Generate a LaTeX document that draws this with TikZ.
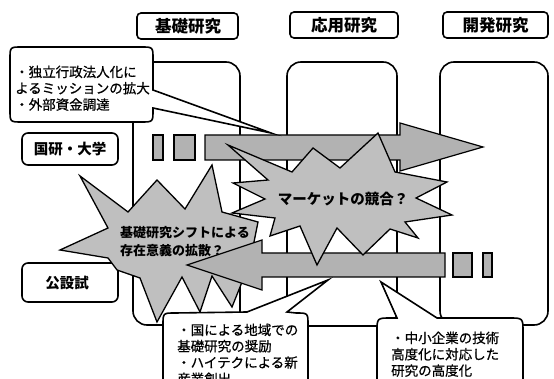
\documentclass[tikz,border=0pt]{standalone}
\usepackage{fontspec}
\newfontfamily\jp{Noto Sans CJK JP}
\newfontfamily\jpm[FakeBold=0.7]{Noto Sans CJK JP}
\begin{document}
\begin{tikzpicture}[x=1pt,y=-1pt,
  colbox/.style={draw=black,line width=1.6pt,fill=white,rounded corners=14pt},
  headbox/.style={draw=black,line width=1.6pt,fill=white,rounded corners=4pt},
  sidebox/.style={draw=black,line width=1.6pt,fill=white,rounded corners=6pt},
  graybar/.style={draw=black,line width=1.2pt,fill=black!30},
  burst/.style={draw=black,line width=1.3pt,fill=black!25,line join=miter,miter limit=20},
  callout/.style={draw=black,line width=1.6pt,fill=white,line join=miter,miter limit=20},
  headtxt/.style={font=\jp\bfseries\fontsize{16.5}{18}\selectfont,inner sep=0pt},
  sidetxt/.style={font=\jp\bfseries\fontsize{14.5}{16}\selectfont,inner sep=0pt},
  bursttxt/.style={font=\jp\bfseries\fontsize{13}{18.5}\selectfont,inner sep=0pt,align=left},
  calltxt/.style={font=\jpm\fontsize{13.5}{16.3}\selectfont,inner sep=0pt,align=left,anchor=north west}]
\clip (0,0) rectangle (554,379);
\fill[white] (0,0) rectangle (554,379);

% columns
\draw[colbox] (133,62) rectangle (240,325);
\draw[colbox] (287,62) rectangle (397,326);
\draw[colbox] (440,62) rectangle (548,325);

% header boxes
\draw[headbox] (137,13) rectangle (238,39);
\node[headtxt] (h1) at (188,26) {基礎研究};
\draw[headbox] (290,12) rectangle (398,38);
\node[headtxt] (h2) at (344,25) {応用研究};
\draw[headbox] (443,12) rectangle (548,38);
\node[headtxt] (h3) at (495.5,25) {開発研究};

% side boxes
\draw[sidebox] (22,133) rectangle (118,165);
\node[sidetxt] (s1) at (70,149) {国研・大学};
\draw[sidebox] (22,263) rectangle (118,302);
\node[sidetxt] (s2) at (67,283) {公設試};

% top arrow (to the right)
\draw[graybar] (153,135) rectangle (163,160);
\draw[graybar] (174,135) rectangle (195,160);
\draw[graybar,line join=miter] (205,135) -- (400,135) -- (400,123) -- (483,147)
   -- (400,171) -- (400,160) -- (205,160) -- cycle;

% starburst B
\draw[burst] (80,176) -- (128,212) -- (157,180) -- (185,209) -- (212,165) -- (222,212)
   -- (258,222) -- (250,262) -- (232,307) -- (212,276) -- (200,312) -- (182,277)
   -- (157,322) -- (140,278) -- (117,270) -- (108,258) -- (60,250) -- (108,228) -- cycle;
\node[bursttxt,anchor=north west] (b2) at (120,226) {基礎研究シフトによる\\存在意義の拡散？};

% bottom arrow (to the left)
\draw[graybar] (453,253) rectangle (472,277);
\draw[graybar] (483,253) rectangle (492,277);
\draw[graybar,line join=miter] (445,253) -- (262,253) -- (262,240) -- (187,265)
   -- (262,290) -- (262,277) -- (445,277) -- cycle;

% starburst A
\draw[burst] (228,145) -- (292,172) -- (313,148) -- (340,168) -- (378,133) -- (395,172)
   -- (447,182) -- (416,198) -- (452,215) -- (405,222) -- (418,238) -- (390,229)
   -- (363,255) -- (337,228) -- (317,265) -- (300,226) -- (270,236) -- (275,218)
   -- (232,213) -- (265,199) -- (233,183) -- (268,180) -- cycle;
\node[font=\jp\bfseries\fontsize{14.5}{16}\selectfont,inner sep=0pt] (b1) at (343,199) {マーケットの競合？};

% callout A
\draw[callout] (22,47) -- (141,47) .. controls (153,47) .. (153,59) -- (153,90)
   -- (271,133) -- (153,108) -- (153,110) .. controls (153,122) .. (141,122)
   -- (22,122) .. controls (10,122) .. (10,110) -- (10,59) .. controls (10,47) .. (22,47) -- cycle;
\node[calltxt] (c1) at (15,65.5) {・独立行政法人化に\\よるミッションの拡大\\・外部資金調達};

% callout B
\draw[callout] (163,420) -- (163,325) .. controls (163,313) .. (175,313) -- (247,312)
   -- (328,280) -- (287,312) -- (296,313) .. controls (308,313) .. (308,325)
   -- (308,420) -- cycle;
\node[calltxt] (c2) at (177,323.5) {・国による地域での\\基礎研究の奨励\\・ハイテクによる新\\産業創出};

% callout C
\draw[callout] (377,420) -- (377,332) .. controls (377,318) .. (391,318) -- (397,318)
   -- (381,282) -- (437,318) -- (509,318) .. controls (523,318) .. (523,332)
   -- (523,420) -- cycle;
\node[calltxt] (c3) at (391,331.5) {・中小企業の技術\\高度化に対応した\\研究の高度化};
\end{tikzpicture}
\end{document}
